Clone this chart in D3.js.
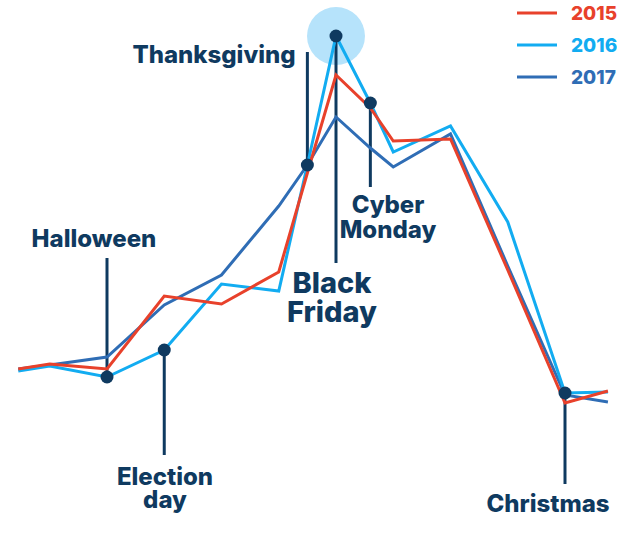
<!DOCTYPE html>
<html>
<head>
<meta charset="utf-8">
<script src="https://cdn.jsdelivr.net/npm/d3@7"></script>
<style>
  html, body { margin: 0; padding: 0; background: #ffffff; }
  svg { display: block; }
  text { font-family: Inter, "Open Sans", sans-serif; font-weight: 800; }
</style>
</head>
<body>
<svg id="chart" width="617" height="544"></svg>
<script>
// ---- data ----
const periods = [-1.55, -1, 0, 1, 2, 3, 3.5, 4, 4.6, 5, 6, 7, 8, 8.75];
const years = ["2015", "2016", "2017"];
const sales2015 = [12.75, 14, 12.75, 31, 29, 37, 61.75, 86.25, 78, 69.75, 70.25, 37.5, 4.25, 7.25];
const sales2016 = [12.25, 13.5, 10.75, 17.5, 34, 32.25, 63.75, 96, 79.25, 67, 73.5, 49.5, 6.75, 7];
const sales2017 = [12.75, 13.75, 15.75, 28.75, 36.25, 53.5, 63.75, 75.75, 68, 63.25, 71.5, 38.5, 6.25, 4.5];
const eventNames = ["Halloween", "Election day", "Thanksgiving", "Black Friday", "Cyber Monday", "Christmas"];
const eventPeriodIndex = [2, 3, 6, 7, 8, 12];

// ---- styles ----
const colors = { "2015": "#e8412b", "2016": "#12acf1", "2017": "#2f6db5" };
const navy = "#0f3a60";

const svg = d3.select("#chart");
const x = d3.scaleLinear().domain([0, 8]).range([107, 565]);
const y = d3.scaleLinear().domain([0, 100]).range([420, 20]);

const seriesByYear = { "2015": sales2015, "2016": sales2016, "2017": sales2017 };
const line = d3.line().x((d, i) => x(periods[i])).y(d => y(d));

// halo behind Black Friday
const bfIdx = eventPeriodIndex[3];
svg.append("circle")
  .attr("cx", x(periods[bfIdx]))
  .attr("cy", y(sales2016[bfIdx]))
  .attr("r", 29)
  .attr("fill", "#b6e3fb");

// annotation layout (positions of labels)
const annLayout = [
  { lineTo: 258, lines: ["Halloween"], tx: 94, ty: 247, lh: 0, size: 24 },
  { lineTo: 455, lines: ["Election", "day"], tx: 165, ty: 485, lh: 23, size: 24 },
  { lineTo: 52, lines: ["Thanksgiving"], tx: 214, ty: 63, lh: 0, size: 24 },
  { lineTo: 263, lines: ["Black", "Friday"], tx: 332, ty: 292.5, lh: 29, size: 29 },
  { lineTo: 187, lines: ["Cyber", "Monday"], tx: 388, ty: 213, lh: 25, size: 24 },
  { lineTo: 484, lines: ["Christmas"], tx: 548, ty: 512, lh: 0, size: 24 }
];

// annotation stems
eventNames.forEach((name, k) => {
  const i = eventPeriodIndex[k];
  const L = annLayout[k];
  svg.append("line")
    .attr("x1", x(periods[i])).attr("x2", x(periods[i]))
    .attr("y1", y(sales2016[i])).attr("y2", L.lineTo)
    .attr("stroke", navy).attr("stroke-width", 3);
});

// lines (2017 bottom, 2015 on top)
["2017", "2016", "2015"].forEach(yr => {
  svg.append("path")
    .datum(seriesByYear[yr])
    .attr("d", line)
    .attr("fill", "none")
    .attr("stroke", colors[yr])
    .attr("stroke-width", 3)
    .attr("stroke-linejoin", "miter");
});

// dots and labels
eventNames.forEach((name, k) => {
  const i = eventPeriodIndex[k];
  const L = annLayout[k];
  svg.append("circle")
    .attr("cx", x(periods[i]))
    .attr("cy", y(sales2016[i]))
    .attr("r", 6.5)
    .attr("fill", navy);
  const t = svg.append("text")
    .attr("x", L.tx).attr("y", L.ty)
    .attr("text-anchor", "middle")
    .attr("font-size", L.size)
    .attr("fill", navy);
  L.lines.forEach((s, j) => {
    t.append("tspan")
      .attr("x", L.tx)
      .attr("y", L.ty + j * L.lh)
      .text(s);
  });
});

// legend
years.forEach((yr, j) => {
  const ly = 13 + j * 32;
  svg.append("line")
    .attr("x1", 517).attr("x2", 557)
    .attr("y1", ly).attr("y2", ly)
    .attr("stroke", colors[yr]).attr("stroke-width", 3);
  svg.append("text")
    .attr("x", 571).attr("y", ly + 7)
    .attr("font-size", 19)
    .attr("fill", colors[yr])
    .text(yr);
});
</script>
</body>
</html>
